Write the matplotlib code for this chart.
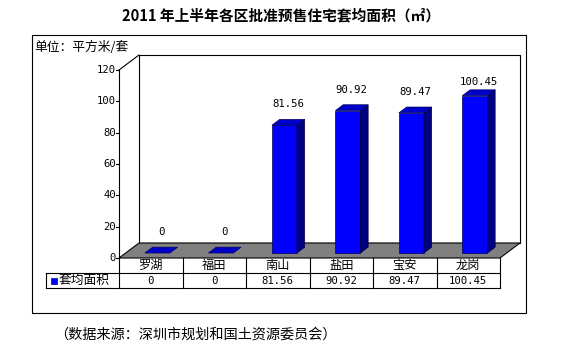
import matplotlib
matplotlib.use('Agg')
import matplotlib.pyplot as plt
from matplotlib.patches import Polygon, Rectangle
from matplotlib.lines import Line2D
from matplotlib.transforms import IdentityTransform

plt.rcParams['font.family'] = ['Noto Sans CJK SC', 'DejaVu Sans']

# data
title = '2011 年上半年各区批准预售住宅套均面积（㎡）'
unit_label = '单位：平方米/套'
source = '（数据来源：深圳市规划和国土资源委员会）'
series_name = '套均面积'
districts = ['罗湖', '福田', '南山', '盐田', '宝安', '龙岗']
area = [0, 0, 81.56, 90.92, 89.47, 100.45]
value_text = ['0', '0', '81.56', '90.92', '89.47', '100.45']
y_ticks = [0, 20, 40, 60, 80, 100, 120]

W, H = 581, 352
fig = plt.figure(figsize=(W / 100, H / 100), dpi=100)
fig.patch.set_facecolor('white')
ax = fig.add_axes([119 / W, 1 - 258 / H, 381 / W, 188 / H])
ax.set_xlim(0, len(districts))
ax.set_ylim(0, 120)
ax.axis('off')

ident = IdentityTransform()
DEPTH = (20, 15)          # floor depth in pixels
num_font = 'DejaVu Sans Mono'
LW = 0.8


def pt(x, v, d=0.0):
    X, Y = ax.transData.transform((x, v))
    return (X + d * DEPTH[0], Y + d * DEPTH[1])


def img(xp, yp):
    # picture pixel (top-left origin) -> display
    return (xp, H - yp)


def poly(pts, fc, ec='black', lw=LW):
    fig.add_artist(Polygon(pts, closed=True, facecolor=fc, edgecolor=ec,
                           linewidth=lw, transform=ident))


def line(p0, p1, lw=LW):
    fig.add_artist(Line2D([p0[0], p1[0]], [p0[1], p1[1]], color='black',
                          linewidth=lw, transform=ident))


def text(p, s, **kw):
    fig.text(p[0], p[1], s, transform=ident, **kw)


n = len(districts)

# outer frame
x0, y0 = img(32, 313)
fig.add_artist(Rectangle((x0, y0), 494, 278, facecolor='none',
                         edgecolor='black', linewidth=LW, transform=ident))

text(img(281, 15), title, ha='center', va='center', fontsize=10.6,
     fontweight='bold')
text(img(34, 47), unit_label, ha='left', va='center', fontsize=9.2)
text(img(54, 335), source, ha='left', va='center', fontsize=10.2)

# back wall, side wall and floor
poly([pt(0, 0, 1), pt(n, 0, 1), pt(n, 120, 1), pt(0, 120, 1)], 'white')
line(pt(0, 0), pt(0, 120))
line(pt(0, 120), pt(0, 120, 1))
poly([pt(0, 0), pt(n, 0), pt(n, 0, 1), pt(0, 0, 1)], '#808080')

for t in y_ticks:
    px, py = pt(0, t)
    line((px - 3, py), (px, py))
    text((px - 3, py), str(t), ha='right', va='center', fontsize=7.6,
         family=num_font)

# bars
bw = 25 / 63.5
d0, d1 = 1 / 3, 0.72
dm = (d0 + d1) / 2
for i, v in enumerate(area):
    xa = i + (1 - bw) / 2
    xb = xa + bw
    if v > 0:
        poly([pt(xa, 0, d0), pt(xb, 0, d0), pt(xb, v, d0), pt(xa, v, d0)],
             '#0000FF', ec='#000060', lw=0.5)
        poly([pt(xb, 0, d0), pt(xb, 0, d1), pt(xb, v, d1), pt(xb, v, d0)],
             '#000080', ec='#000040', lw=0.5)
    poly([pt(xa, v, d0), pt(xb, v, d0), pt(xb, v, d1), pt(xa, v, d1)],
         '#0000C8', ec='#000060', lw=0.5)
    lx, ly = pt(i + 0.5, v, dm)
    ly = min(ly + 18, pt(0, 107, dm)[1])
    text((lx, ly), value_text[i], ha='center', va='center', fontsize=7.7,
         family=num_font)

# data table
top = pt(0, 0)[1]
r1, r2 = top - 15, top - 30
left = img(46, 0)[0]
right = pt(n, 0)[0]
line((left, r1), (right, r1))
line((left, r2), (right, r2))
line((left, r1), (left, r2))
for i in range(n + 1):
    cx = pt(i, 0)[0]
    line((cx, top), (cx, r2))
for i in range(n):
    cx = pt(i + 0.5, 0)[0]
    text((cx, (top + r1) / 2), districts[i], ha='center', va='center',
         fontsize=8.8)
    text((cx, (r1 + r2) / 2), value_text[i], ha='center', va='center',
         fontsize=7.7, family=num_font)
ym = (r1 + r2) / 2
fig.add_artist(Rectangle((left + 5, ym - 3), 6, 6, facecolor='#0000FF',
                         edgecolor='#000080', linewidth=0.5, transform=ident))
text((left + 13, ym), series_name, ha='left', va='center', fontsize=9.2)

fig.savefig('out.png', dpi=100)
